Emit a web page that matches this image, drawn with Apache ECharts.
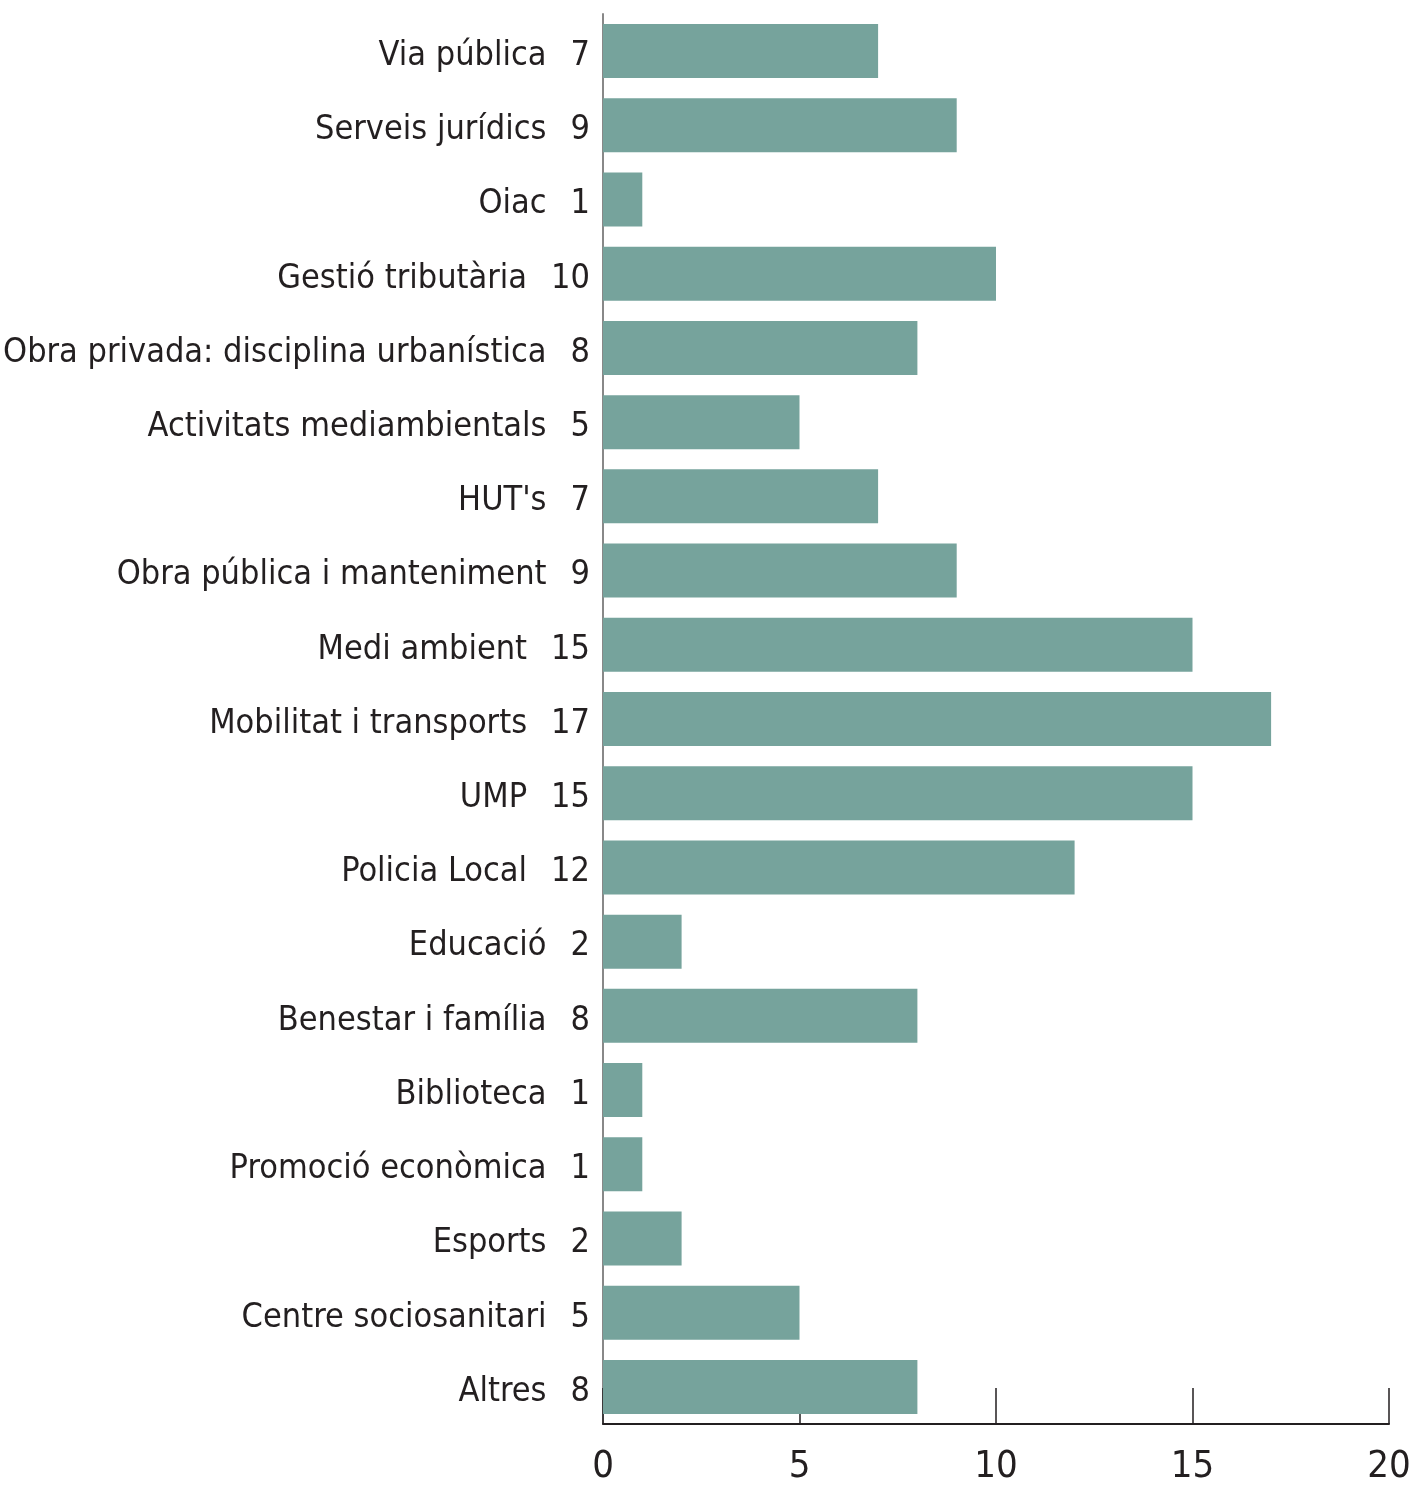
<!DOCTYPE html>
<html>
<head>
<meta charset="utf-8">
<title>Bars</title>
<script src="https://cdn.jsdelivr.net/npm/echarts@6/dist/echarts.min.js"></script>
<style>
  html,body{margin:0;padding:0;background:#fff}
  #chart{width:1413px;height:1486px}
</style>
</head>
<body>
<div id="chart"></div>
<script>
var categories = ['Via pública','Serveis jurídics','Oiac','Gestió tributària','Obra privada: disciplina urbanística',
  'Activitats mediambientals',"HUT's",'Obra pública i manteniment','Medi ambient','Mobilitat i transports',
  'UMP','Policia Local','Educació','Benestar i família','Biblioteca','Promoció econòmica','Esports',
  'Centre sociosanitari','Altres'];
var values = [7, 9, 1, 10, 8, 5, 7, 9, 15, 17, 15, 12, 2, 8, 1, 1, 2, 5, 8];
var xTicks = [0, 5, 10, 15, 20];

var FONT = '"Liberation Sans Narrow", "DejaVu Sans Condensed", "Roboto Condensed", sans-serif';
var myChart = echarts.init(document.getElementById('chart'));
var option = {
  animation: false,
  grid: {left: 603, right: 24, top: 14, bottom: 62, containLabel: false, outerBoundsMode: 'none'},
  xAxis: {
    type: 'value',
    min: xTicks[0],
    max: xTicks[xTicks.length - 1],
    interval: 5,
    axisLine: {show: true, lineStyle: {color: '#231f20', width: 2}},
    axisTick: {show: true, inside: true, length: 36, lineStyle: {color: '#231f20', width: 1.5}},
    splitLine: {show: false},
    axisLabel: {color: '#231f20', fontFamily: FONT, fontSize: 38, margin: 24}
  },
  yAxis: {
    type: 'category',
    inverse: true,
    data: categories,
    axisLine: {show: true, lineStyle: {color: '#888888', width: 2}},
    axisTick: {show: false},
    axisLabel: {
      margin: 13,
      formatter: function (name, i) {
        return '{n|' + name + '}{v|' + values[i] + '}';
      },
      rich: {
        n: {color: '#231f20', fontFamily: FONT, fontSize: 34, padding: [10, 0, 0, 0]},
        v: {color: '#231f20', fontFamily: FONT, fontSize: 34, padding: [10, 0, 0, 24]}
      }
    }
  },
  series: [{
    type: 'bar',
    data: values,
    barWidth: 54,
    itemStyle: {color: '#76a39c'}
  }]
};
myChart.setOption(option);
</script>
</body>
</html>
